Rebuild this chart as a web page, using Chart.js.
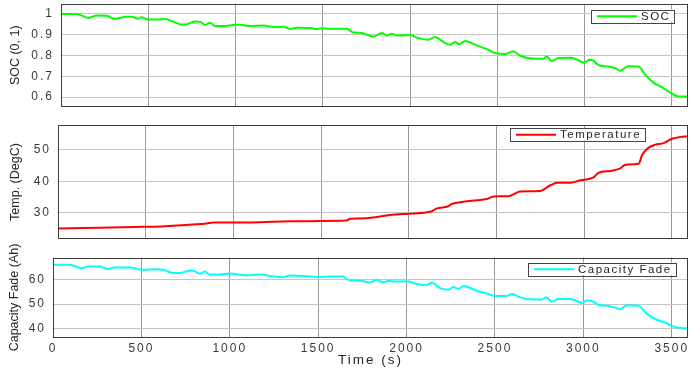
<!DOCTYPE html>
<html><head><meta charset="utf-8">
<script src="https://cdn.jsdelivr.net/npm/chart.js@4.4.1/dist/chart.umd.min.js"></script>
<style>
html,body{margin:0;padding:0;background:#fff;width:690px;height:369px;overflow:hidden}
canvas{position:absolute;left:0}
</style></head><body>
<canvas id="c1" width="690" height="112" style="top:0px"></canvas>
<canvas id="c2" width="690" height="130" style="top:112px"></canvas>
<canvas id="c3" width="690" height="127" style="top:242px"></canvas>
<script>
// ---- data ----
const timeTicks = [0, 500, 1000, 1500, 2000, 2500, 3000, 3500];
const socTicks = [0.6, 0.7, 0.8, 0.9, 1];
const tempTicks = [30, 40, 50];
const capTicks = [40, 50, 60];

const socTime = [0,90,157,205,262,309,376,405,443,460,500,548,596,625,691,720,768,797,825,854,883,930,1000,1025,1083,1160,1217,1274,1312,1350,1436,1455,1493,1541,1637,1670,1723,1790,1838,1867,1895,1924,2000,2047,2105,2143,2201,2229,2258,2282,2315,2382,2440,2478,2544,2592,2630,2697,2764,2783,2812,2850,2917,2955,2993,3031,3050,3079,3127,3175,3203,3251,3308,3347,3394,3442,3490,3538,3592];
const socValues = [1.0,1.0,0.981,0.993,0.991,0.977,0.987,0.987,0.977,0.984,0.973,0.973,0.976,0.969,0.950,0.951,0.964,0.962,0.948,0.958,0.942,0.942,0.948,0.948,0.942,0.944,0.937,0.938,0.928,0.934,0.932,0.928,0.931,0.929,0.929,0.912,0.908,0.892,0.908,0.897,0.905,0.897,0.899,0.884,0.876,0.889,0.860,0.852,0.865,0.855,0.870,0.849,0.831,0.815,0.807,0.821,0.799,0.786,0.785,0.796,0.774,0.788,0.789,0.781,0.767,0.780,0.776,0.754,0.748,0.740,0.727,0.748,0.747,0.708,0.670,0.648,0.622,0.603,0.603];

const tempTime = [0,238,495,609,790,847,885,1000,1151,1284,1494,1646,1665,1722,1798,1893,1998,2122,2160,2226,2245,2312,2388,2445,2483,2569,2635,2749,2807,2845,2921,2978,3054,3082,3149,3206,3235,3311,3330,3359,3406,3453,3501,3549,3593];
const tempValues = [24.9,25.1,25.4,25.6,26.2,26.5,26.8,26.8,26.9,27.1,27.3,27.4,28.0,28.1,28.4,29.2,29.6,30.2,31.3,32.0,32.7,33.4,33.9,34.3,35.1,35.2,36.7,36.9,38.7,39.5,39.5,40.3,41.2,42.7,43.3,44.1,45.3,45.6,48.3,50.4,51.7,52.2,53.6,54.2,54.4];

const capTime = [0,95,161,198,264,311,349,434,481,510,585,623,680,717,774,793,831,859,887,944,1000,1095,1170,1227,1302,1340,1435,1491,1585,1642,1670,1746,1793,1831,1868,1897,1935,2001,2058,2114,2143,2190,2237,2265,2293,2322,2397,2454,2492,2567,2596,2643,2699,2765,2790,2822,2860,2926,2973,2992,3020,3058,3086,3143,3180,3209,3246,3312,3360,3417,3454,3501,3548,3592];
const capValues = [66.2,66.2,64.8,65.5,65.5,64.5,65.1,65.1,64.5,64.1,64.4,64.2,62.8,62.8,63.8,63.8,62.5,63.4,62.2,62.2,62.6,61.9,62.2,61.6,61.1,61.8,61.5,61.2,61.4,61.4,60.0,59.6,58.9,60.0,59.0,59.6,59.3,59.4,58.3,57.9,58.8,56.6,55.9,57.1,56.3,57.5,55.5,54.4,53.5,53.4,54.2,52.8,52.0,51.9,52.9,51.0,52.1,52.1,51.0,50.5,51.6,51.0,49.7,49.3,48.6,47.9,49.6,49.3,46.0,43.5,42.7,41.1,40.2,40.1];

// ---- rendering ----
const FONT = '"Liberation Sans", Arial, Helvetica, sans-serif';
Chart.defaults.font.family = FONT;

const decor = {
  id: 'decor',
  beforeDraw(chart) { chart.ctx.letterSpacing = '2px'; },
  afterDatasetsDraw(chart, args, o) {
    const ctx = chart.ctx, a = chart.chartArea;
    ctx.save();
    ctx.letterSpacing = '0px';
    ctx.strokeStyle = '#3c3c3c';
    ctx.lineWidth = 1;
    const x0 = Math.round(a.left) + 0.5, y0 = Math.round(a.top) + 0.5;
    const x1 = Math.round(a.right) - 0.5, y1 = Math.round(a.bottom) - 0.5;
    ctx.strokeRect(x0, y0, x1 - x0, y1 - y0);
    ctx.fillStyle = '#262626';
    ctx.font = '12.5px ' + FONT;
    ctx.textAlign = 'center';
    ctx.textBaseline = 'middle';
    ctx.translate(o.titleX, (a.top + a.bottom) / 2);
    ctx.rotate(-Math.PI / 2);
    ctx.fillText(o.yTitle, 0, 0);
    ctx.restore();
    // legend
    ctx.save();
    const ds = chart.data.datasets[0];
    ctx.font = '11.5px ' + FONT;
    ctx.letterSpacing = '1.5px';
    const tw = ctx.measureText(ds.label).width;
    const bx = o.legLeft, by = o.legTop, bh = 12.5;
    const bw = 6 + 40 + 4 + tw + 4;
    ctx.fillStyle = '#fff';
    ctx.fillRect(bx, by, bw, bh);
    ctx.strokeStyle = '#444';
    ctx.lineWidth = 1;
    ctx.strokeRect(Math.round(bx) + 0.5, Math.round(by) + 0.5, Math.round(bw), Math.round(bh));
    ctx.strokeStyle = ds.borderColor;
    ctx.lineWidth = 2;
    ctx.beginPath();
    ctx.moveTo(bx + 6, by + bh / 2 + 0.5);
    ctx.lineTo(bx + 46, by + bh / 2 + 0.5);
    ctx.stroke();
    ctx.fillStyle = '#262626';
    ctx.textAlign = 'left';
    ctx.textBaseline = 'middle';
    ctx.fillText(ds.label, bx + 50, by + bh / 2 + 1);
    ctx.restore();
  }
};

function makeChart(id, cfg) {
  const data = cfg.times.map((t, i) => ({ x: t, y: cfg.values[i] }));
  return new Chart(document.getElementById(id), {
    type: 'line',
    data: { datasets: [{ label: cfg.label, data, borderColor: cfg.color, borderWidth: 2,
      pointRadius: 0, cubicInterpolationMode: 'monotone', fill: false }] },
    options: {
      responsive: false, devicePixelRatio: 1, animation: false,
      layout: { padding: { left: 0, right: 2, top: cfg.padTop, bottom: 0 } },
      plugins: { legend: { display: false }, tooltip: { enabled: false },
        decor: { yTitle: cfg.yTitle, titleX: cfg.titleX, legLeft: cfg.legLeft, legTop: cfg.legTop } },
      scales: {
        x: {
          type: 'linear', min: 0, max: 3592,
          afterBuildTicks: s => { s.ticks = timeTicks.map(v => ({ value: v })); },
          afterFit: s => { s.height = cfg.xHeight; s.paddingLeft = 0; s.paddingRight = 0; s.paddingTop = 0; s.paddingBottom = 0; },
          grid: { color: '#9a9a9a', lineWidth: 1, drawTicks: false },
          border: { display: false },
          ticks: { display: cfg.showX, color: '#3a3a3a', font: { size: 12 }, padding: 4, maxRotation: 0, autoSkip: false,
            callback: v => String(v) },
          title: { display: cfg.showX, text: 'Time (s)', color: '#262626', font: { size: 13.5 }, padding: { top: 0, bottom: 1 } }
        },
        y: {
          type: 'linear', min: cfg.yMin, max: cfg.yMax,
          afterBuildTicks: s => { s.ticks = cfg.yTicks.map(v => ({ value: v })); },
          afterFit: s => { s.width = cfg.leftW; s.paddingTop = 0; s.paddingBottom = 0; s.paddingLeft = 0; s.paddingRight = 0; },
          grid: { color: '#c6c6c6', lineWidth: 1, drawTicks: false },
          border: { display: false },
          ticks: { color: '#3a3a3a', font: { size: 12 }, padding: 7,
            callback: v => String(v) }
        }
      }
    },
    plugins: [decor]
  });
}

makeChart('c1', { times: socTime, values: socValues, label: 'SOC', color: '#00ff00',
  yMin: 0.555, yMax: 1.048, yTicks: socTicks, yTitle: 'SOC (0, 1)', titleX: 16,
  padTop: 4, xHeight: 5.5, leftW: 61, showX: false, legLeft: 591, legTop: 9.5 });
makeChart('c2', { times: tempTime, values: tempValues, label: 'Temperature', color: '#ff0000',
  yMin: 21.5, yMax: 58, yTicks: tempTicks, yTitle: 'Temp. (DegC)', titleX: 16,
  padTop: 13, xHeight: 3, leftW: 58, showX: false, legLeft: 510, legTop: 16 });
makeChart('c3', { times: capTime, values: capValues, label: 'Capacity Fade', color: '#00ffff',
  yMin: 36.3, yMax: 69.2, yTicks: capTicks, yTitle: 'Capacity Fade (Ah)', titleX: 15,
  padTop: 15.5, xHeight: 31.5, leftW: 53, showX: true, legLeft: 528, legTop: 20.5 });
</script>
</body></html>
